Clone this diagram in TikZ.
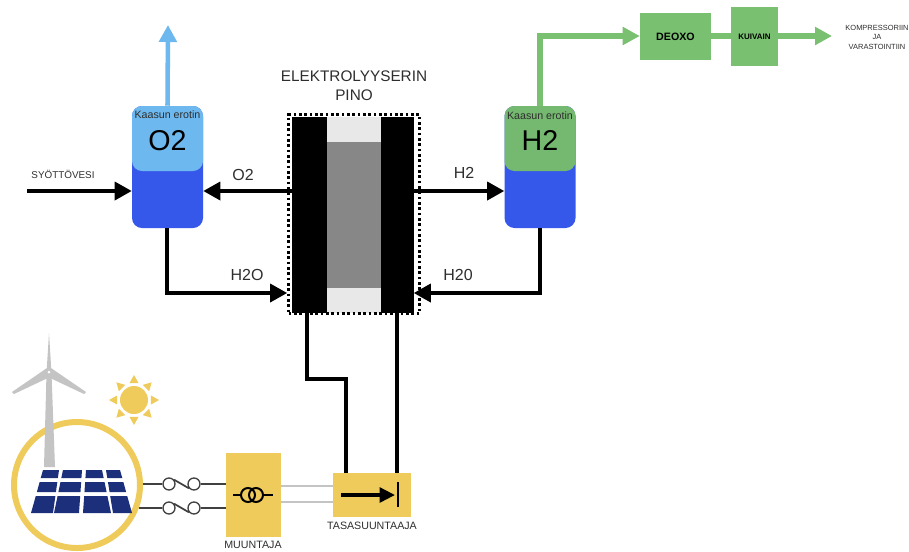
\documentclass[tikz,border=0pt]{standalone}
\usepackage{fontspec}
\setmainfont{Liberation Sans}
\usetikzlibrary{arrows.meta,positioning,calc}
\definecolor{sunny}{HTML}{EFCB5B}
\definecolor{water}{HTML}{3558EA}
\definecolor{oxy}{HTML}{6DB8EE}
\definecolor{hyd}{HTML}{74B96F}
\definecolor{pipegreen}{HTML}{79C070}
\definecolor{navy}{HTML}{1B2F7A}
\definecolor{stackdark}{HTML}{878787}
\definecolor{stacklight}{HTML}{E8E8E8}
\definecolor{tower}{HTML}{C4C4C4}
\definecolor{txt}{HTML}{2E2E2E}
\newcommand{\px}{0.75pt}

\begin{document}
\begin{tikzpicture}[x=0.75pt,y=-0.75pt,
 lbl/.style={inner sep=0pt,text=txt,font=\fontsize{12pt}{14pt}\selectfont},
 small/.style={inner sep=0pt,text=txt,font=\fontsize{8pt}{10pt}\selectfont},
 tank/.style={fill=water,rounded corners=7.5pt,minimum width=71*\px,minimum height=122*\px,inner sep=0pt},
 gas/.style={rounded corners=7.5pt,minimum width=71*\px,minimum height=65*\px,inner sep=0pt},
 gbox/.style={fill=pipegreen,inner sep=0pt,font=\bfseries},
 ybox/.style={fill=sunny,inner sep=0pt},
 plate/.style={fill=black,minimum width=33*\px,minimum height=196*\px,inner sep=0pt},
 fuse/.style={circle,draw=black!75,fill=white,line width=1pt,minimum size=12*\px,inner sep=0pt},
 coil/.style={circle,draw=black,line width=1.5pt,minimum size=14*\px,inner sep=0pt},
 a/.style={-{Triangle[length=12.75pt,width=13.5pt]},line width=2.6pt,color=black},
 wire/.style={line width=2.6pt,color=black},
 fwire/.style={line width=1.3pt,color=black!75},
 ga/.style={-{Triangle[length=12.75pt,width=13pt]},line width=4pt,color=pipegreen}]
 \useasboundingbox (0,0) rectangle (909,551);

 \node[tank] (o2tank) at (167.5,167) {};
 \node[gas,fill=oxy] (o2gas) at (167.5,138.5) {};
 \node[inner sep=0pt,text=txt,font=\fontsize{8pt}{10pt}\selectfont] (o2cap) at (167.5,115) {Kaasun erotin};
 \node[inner sep=0pt,text=black,font=\fontsize{21.5pt}{24pt}\selectfont] (o2name) at (167.5,141) {O2};
 \node[tank] (h2tank) at (540,167) {};
 \node[gas,fill=hyd] (h2gas) at (540,138.5) {};
 \node[inner sep=0pt,text=txt,font=\fontsize{8pt}{10pt}\selectfont] (h2cap) at (540,116) {Kaasun erotin};
 \node[inner sep=0pt,text=black,font=\fontsize{21.5pt}{24pt}\selectfont] (h2name) at (540,140) {H2};

 \node[fill=stacklight,minimum width=56*\px,minimum height=196*\px,inner sep=0pt] (gap) at (354,215) {};
 \node[fill=stackdark,minimum width=56*\px,minimum height=146*\px,inner sep=0pt] (core) at (354,215) {};
 \node[plate,minimum width=35*\px] (platel) at (309.5,215) {};
 \node[plate] (plater) at (397,215) {};
 \node[draw=black,line width=2pt,dash pattern=on 2pt off 2pt,minimum width=131*\px,minimum height=199*\px,inner sep=0pt] (stack) at (354,214) {};
 \node[lbl,align=center,font=\fontsize{11.5pt}{14.2pt}\selectfont] (stacktitle) at (354,86) {ELEKTROLYYSERIN\\PINO};

 \coordinate (feed) at (27,191);
 \coordinate (c1) at (167,293);
 \coordinate (c2) at (540,293);
 \coordinate (o2out) at (168,25);
 \coordinate (c3) at (540,36);
 \coordinate (h2out) at (832,36);
 \draw[a] (feed) -- (feed -| o2tank.west);
 \draw[a] (feed -| platel.west) -- (feed -| o2tank.east);
 \draw[a] (feed -| plater.east) -- (feed -| h2tank.west);
 \draw[a,line join=miter] (o2tank.south -| c1) -- (c1) -- (c1 -| stack.west);
 \draw[a,line join=miter] (h2tank.south) -- (c2) -- (c2 -| plater.east);
 \draw[-{Triangle[length=12.75pt,width=13pt]},line width=3.4pt,color=oxy] (o2gas.north) -- (o2out);

 \node[gbox,minimum width=71*\px,minimum height=47*\px,font=\bfseries\fontsize{8pt}{10pt}\selectfont] (deoxo) at (675.5,36.5) {DEOXO};
 \node[gbox,minimum width=47*\px,minimum height=59*\px,font=\bfseries\fontsize{6pt}{8pt}\selectfont] (kuivain) at (754.5,36.5) {KUIVAIN};
 \draw[ga,line join=miter] (h2gas.north) -- (c3) -- (c3 -| deoxo.west);
 \draw[line width=4pt,color=pipegreen] (deoxo.east |- c3) -- (kuivain.west |- c3);
 \draw[ga] (kuivain.east |- c3) -- (h2out);
 \node[inner sep=0pt,text=txt,align=center,font=\fontsize{5.6pt}{7.1pt}\selectfont] (store) at (877,37) {KOMPRESSORIIN\\JA\\VARASTOINTIIN};

 \node[inner sep=0pt,text=txt,font=\fontsize{7.4pt}{9pt}\selectfont] (feedlbl) at (63,174) {SYÖTTÖVESI};
 \node[lbl] (o2lbl) at (243,175) {O2};
 \node[lbl] (h2lbl) at (464,173) {H2};
 \node[lbl] (h2olbl) at (247,275) {H2O};
 \node[lbl] (h20lbl) at (458,275) {H20};

 \node[ybox,minimum width=55*\px,minimum height=84*\px] (muunt) at (253.5,495) {};
 \node[ybox,minimum width=78*\px,minimum height=44*\px] (rect) at (372,495) {};
 \node[small] (muuntlbl) at (253,545) {MUUNTAJA};
 \node[small] (rectlbl) at (372,526) {TASASUUNTAAJA};

 \coordinate (w1) at (307,379);
 \coordinate (w2) at (346,379);
 \coordinate (w3) at (397,379);
 \draw[wire] (platel.south -| w1) -- (w1) -- (w2) -- (w2 |- rect.north);
 \draw[wire] (plater.south -| w3) -- (w3 |- rect.north);

 \coordinate (g1) at (281,486);
 \coordinate (g2) at (281,502);
 \draw[line width=1.5pt,color=tower] (g1) -- (g1 -| rect.west);
 \draw[line width=1.5pt,color=tower] (g2) -- (g2 -| rect.west);

 \node[circle,draw=sunny,fill=white,line width=6*\px,minimum size=126*\px,inner sep=0pt] (pv) at (77,485) {};
 \node[fuse] (fa) at (169,484) {};
 \node[fuse] (fb) at (194,484) {};
 \node[fuse] (fc) at (169,508) {};
 \node[fuse] (fd) at (194,508) {};
 \draw[fwire] (pv.east |- fa) -- (fa);
 \draw[fwire] (fa.40) -- (fb.220);
 \draw[fwire] (fb) -- (fb -| muunt.west);
 \draw[fwire,shorten >=-3pt] (fc) -- (fc -| pv.east);
 \draw[fwire] (fc.40) -- (fd.220);
 \draw[fwire] (fd) -- (fd -| muunt.west);

 \fill[tower] (44,467) -- (46.5,373) -- (51.5,373) -- (55,467) -- cycle;
 \fill[tower] (49,333) -- (51.5,373) -- (46.5,373) -- cycle;
 \fill[tower] (47,368) -- (12,392) -- (14,394) -- (50,377) -- cycle;
 \fill[tower] (51,368) -- (86,392) -- (84,394) -- (48,377) -- cycle;
 \fill[white] (49,372) circle (1.5);

 \foreach \ta/\tb/\ba/\bb in {43/59/31/53,63/82/54/79,86/102/83/111,106/120/113/132}
  \foreach \fa/\fb/\ya/\yb in {0/.19/470/478,.28/.51/482/492,.6/1/496/513}
   \fill[navy] ({\ta+(\ba-\ta)*\fa},\ya) -- ({\tb+(\bb-\tb)*\fa},\ya) -- ({\tb+(\bb-\tb)*\fb},\yb) -- ({\ta+(\ba-\ta)*\fb},\yb) -- cycle;

 \begin{scope}[shift={(134,400)}]
  \fill[sunny] (0,0) circle (14);
  \foreach \ang in {0,45,...,315}
   \fill[sunny] (\ang-15:17.5) -- (\ang:25) -- (\ang+15:17.5) -- cycle;
 \end{scope}

 \node[coil] (tr1) at (248,495) {};
 \node[coil] (tr2) at (256,495) {};
 \coordinate (tin) at (233,495);
 \coordinate (tout) at (273,495);
 \draw[line width=1.2pt,color=black] (tin) -- (tr1.west);
 \draw[line width=1.2pt,color=black] (tr2.east) -- (tout);

 \coordinate (ra) at (341,495);
 \coordinate (rb) at (395,495);
 \coordinate (rc) at (398,482);
 \coordinate (rd) at (398,507);
 \draw[-{Triangle[length=11.5pt,width=11pt]},line width=2.6pt,color=black] (ra) -- (rb);
 \draw[line width=1.8pt,color=black] (rc) -- (rd);
\end{tikzpicture}
\end{document}
